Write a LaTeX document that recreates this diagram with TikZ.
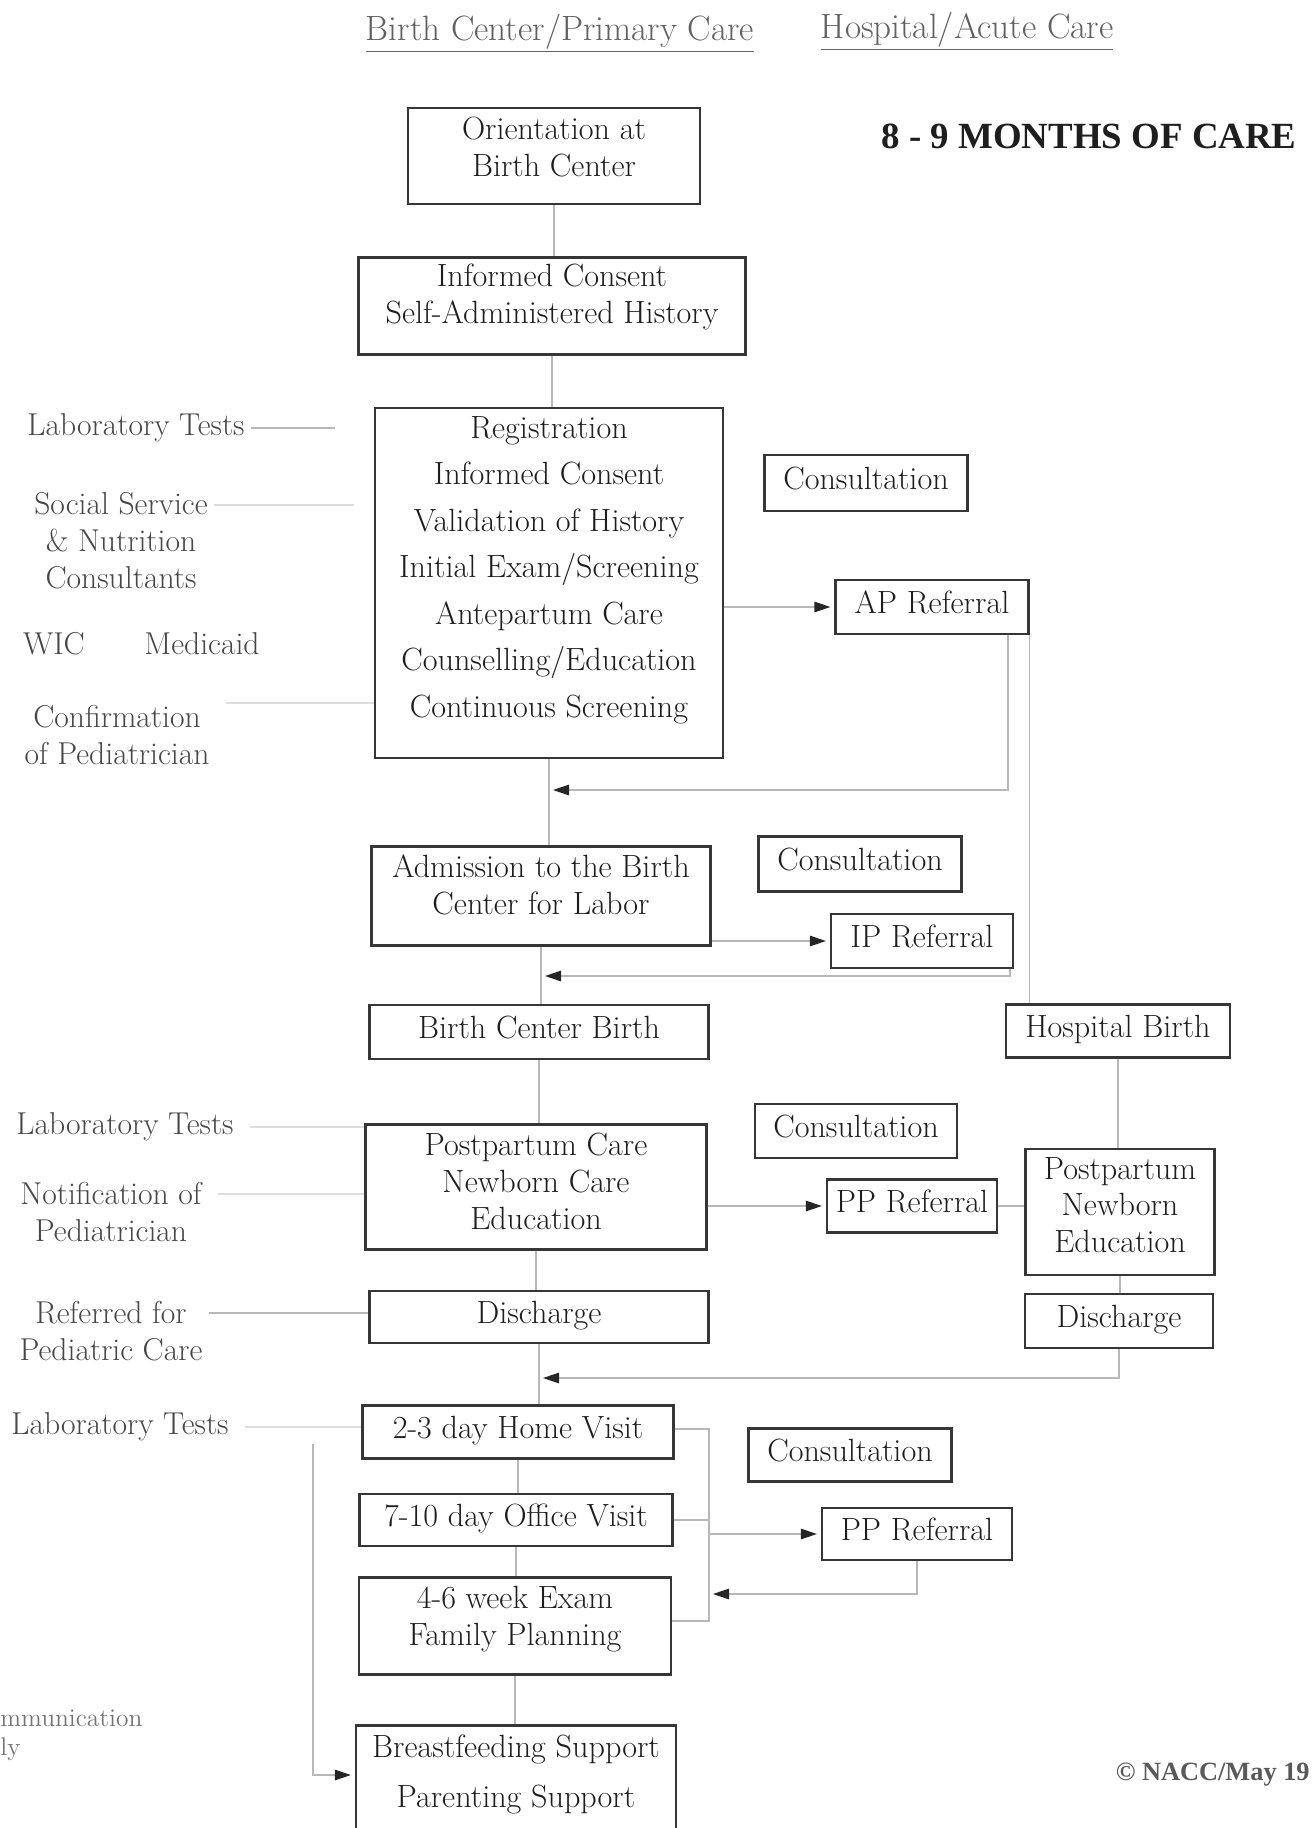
\documentclass[tikz,border=0pt]{standalone}
\usepackage{fontspec}
\newfontfamily\titlefont{Liberation Serif}
\usetikzlibrary{arrows.meta}
\definecolor{boxc}{HTML}{363636}
\definecolor{txtc}{HTML}{1E1E1E}
\definecolor{linec}{HTML}{B8B8B8}
\definecolor{faintc}{HTML}{DDDDDD}

\begin{document}
\begin{tikzpicture}[
		x=0.02cm, y=-0.02cm,
		every node/.style = {font=\fontsize{18}{21}\selectfont, text=txtc},
		box/.style = {draw=boxc, line width=1.3pt, align=center, inner sep=2pt, font=\fontsize{18.3}{21}\selectfont},
		sbox/.style = {box, text height=0.44cm, text depth=0.2cm},
		lbl/.style = {align=center, text=black!72},
		conn/.style = {draw=linec, line width=0.8pt},
		faintline/.style = {draw=faintc, line width=0.8pt},
		arr/.style = {conn, shorten >=0.08cm, -{Triangle[length=0.32cm, width=0.21cm, color=black!85]}}
	]
	\useasboundingbox (0,0) rectangle (1312,1828);

	% headings
	\node[text=black!62, font=\fontsize{20}{22}\selectfont] (h1) at (560,33) {\underline{Birth Center/Primary Care}};
	\node[text=black!62, font=\fontsize{20}{22}\selectfont] (h2) at (967,31) {\underline{Hospital/Acute Care}};
	\node[font=\titlefont\bfseries\fontsize{21}{24}\selectfont] (t) at (1089,136) {8 - 9 MONTHS OF CARE};

	% birth center column
	\node[box, minimum width=5.84cm, minimum height=1.92cm, text depth=0.37cm] (ori) at (554,156) {Orientation at\\Birth Center};
	\node[box, minimum width=7.74cm, minimum height=1.94cm, text depth=0.5cm] (ic) at (552,306) {Informed Consent\\Self-Administered History};
	\node[box, minimum width=6.96cm, minimum height=7.0cm, text depth=0.65cm, font=\fontsize{18.3}{26.5}\selectfont] (reg) at (549,583)
		{Registration\\Informed Consent\\Validation of History\\Initial Exam/Screening\\Antepartum Care\\Counselling/Education\\Continuous Screening};
	\node[box, minimum width=6.78cm, minimum height=1.98cm, text depth=0.47cm] (adm) at (541,896) {Admission to the Birth\\Center for Labor};
	\node[sbox, minimum width=6.78cm, minimum height=1.08cm] (bcb) at (539,1032) {Birth Center Birth};
	\node[box, minimum width=6.82cm, minimum height=2.5cm, text depth=0.23cm] (ppc) at (536,1187) {Postpartum Care\\Newborn Care\\Education};
	\node[sbox, minimum width=6.78cm, minimum height=1.04cm] (dis1) at (539,1317) {Discharge};
	\node[sbox, minimum width=6.22cm, minimum height=1.06cm] (hv) at (518,1432) {2-3 day Home Visit};
	\node[sbox, minimum width=6.26cm, minimum height=1.04cm] (ov) at (516,1520) {7-10 day Office Visit};
	\node[box, minimum width=6.24cm, minimum height=1.94cm, text depth=0.4cm] (ex) at (515,1626) {4-6 week Exam\\Family Planning};
	\node[box, minimum width=6.4cm, minimum height=2.18cm, text depth=0.36cm, font=\fontsize{18.3}{28.5}\selectfont] (bf) at (516,1780) {Breastfeeding Support\\Parenting Support};

	% consultations and referrals
	\node[sbox, minimum width=4.06cm, minimum height=1.12cm] (con1) at (866,483) {Consultation};
	\node[sbox, minimum width=3.86cm, minimum height=1.08cm] (ap) at (932,607) {AP Referral};
	\node[sbox, minimum width=4.06cm, minimum height=1.1cm] (con2) at (860,864) {Consultation};
	\node[sbox, minimum width=3.64cm, minimum height=1.08cm] (ip) at (922,941) {IP Referral};
	\node[sbox, minimum width=4.04cm, minimum height=1.08cm] (con3) at (856,1131) {Consultation};
	\node[sbox, minimum width=3.4cm, minimum height=1.06cm] (pp1) at (912,1206) {PP Referral};
	\node[sbox, minimum width=4.06cm, minimum height=1.06cm] (con4) at (850,1455) {Consultation};
	\node[sbox, minimum width=3.8cm, minimum height=1.04cm] (pp2) at (917,1534) {PP Referral};

	% hospital column
	\node[sbox, minimum width=4.48cm, minimum height=1.06cm] (hb) at (1118,1031) {Hospital Birth};
	\node[box, minimum width=3.78cm, minimum height=2.52cm, text depth=0.28cm] (pne) at (1120,1212) {Postpartum\\Newborn\\Education};
	\node[sbox, minimum width=3.76cm, minimum height=1.08cm] (dis2) at (1119,1321) {Discharge};

	% side labels
	\node[lbl] (lt1) at (136,428) {Laboratory Tests};
	\node[lbl] (ss) at (121,541) {Social Service\\\& Nutrition\\Consultants};
	\node[lbl] (wic) at (54,644) {WIC};
	\node[lbl] (med) at (202,644) {Medicaid};
	\node[lbl] (cp) at (117,735) {Confirmation\\of Pediatrician};
	\node[lbl] (lt2) at (125,1127) {Laboratory Tests};
	\node[lbl] (np) at (111,1212) {Notification of\\Pediatrician};
	\node[lbl] (rp) at (111,1331) {Referred for\\Pediatric Care};
	\node[lbl] (lt3) at (120,1427) {Laboratory Tests};
	\node[lbl, anchor=west, align=left, inner sep=0pt, text=black!55, font=\fontsize{14.5}{16.5}\selectfont] (cm) at (0,1735) {mmunication\\ly};
	\node[anchor=east, inner sep=0pt, text=black!65, font=\titlefont\bfseries\fontsize{15}{18}\selectfont] (cr) at (1310,1775) {\textcopyright\ NACC/May 19};

	% return points
	\coordinate (r1) at (1008,790);
	\coordinate (r2) at (1010,976);
	\coordinate (r3) at (1122,1378);
	\coordinate (r4) at (922,1594);
	\coordinate (b1) at (709,1429);
	\coordinate (b2) at (709,1621);
	\coordinate (l1) at (313,1444);
	\coordinate (l2) at (313,1775);

	% main flow
	\foreach \a/\b in {ori/ic, ic/reg, reg/adm, adm/bcb, bcb/ppc, ppc/dis1, dis1/hv, hv/ov, ov/ex, ex/bf}
		\draw[conn] (\a.south) -- (\a.south |- \b.north);

	% referrals and returns
	\draw[arr] (reg.east |- ap.west) -- (ap.west);
	\draw[arr] (ap.south -| r1) |- (r1 -| reg.south);
	\draw[conn] (ap.south east) -- (ap.south east |- hb.north);
	\draw[arr] (adm.east |- ip.west) -- (ip.west);
	\draw[arr] (ip.south -| r2) |- (r2 -| adm.south);
	\draw[conn] (hb.south) -- (hb.south |- pne.north);
	\draw[conn] (pne.south) -- (pne.south |- dis2.north);
	\draw[arr] (dis2.south) |- (r3 -| dis1.south);
	\draw[arr] (ppc.east |- pp1.west) -- (pp1.west);
	\draw[conn] (pp1.east) -- (pp1.east -| pne.west);
	\draw[conn] (hv.east |- b1) -- (b1) -- (b2) -- (b2 -| ex.east);
	\draw[conn] (ov.east) -- (ov.east -| b1);
	\draw[arr] (b1 |- pp2.west) -- (pp2.west);
	\draw[arr] (pp2.south) |- (r4 -| b1);
	\draw[arr] (l1) -- (l2) -- (l2 -| bf.west);

	% side label lines
	\draw[conn, shorten >=0.78cm] (lt1.east) -- (lt1.east -| reg.west);
	\draw[faintline, shorten >=0.4cm] ([yshift=0.72cm]ss.east) -- ([yshift=0.72cm]ss.east -| reg.west);
	\draw[faintline, shorten <=0.2cm] ([yshift=0.64cm]cp.east) -- ([yshift=0.64cm]cp.east -| reg.west);
	\draw[faintline, shorten <=0.2cm] (lt2.east) -- (lt2.east -| ppc.west);
	\draw[faintline, shorten <=0.2cm] ([yshift=0.36cm]np.east) -- ([yshift=0.36cm]np.east -| ppc.west);
	\draw[conn] ([yshift=0.36cm]rp.east) -- ([yshift=0.36cm]rp.east -| dis1.west);
	\draw[faintline, shorten <=0.2cm] (lt3.east) -- (lt3.east -| hv.west);
\end{tikzpicture}
\end{document}
